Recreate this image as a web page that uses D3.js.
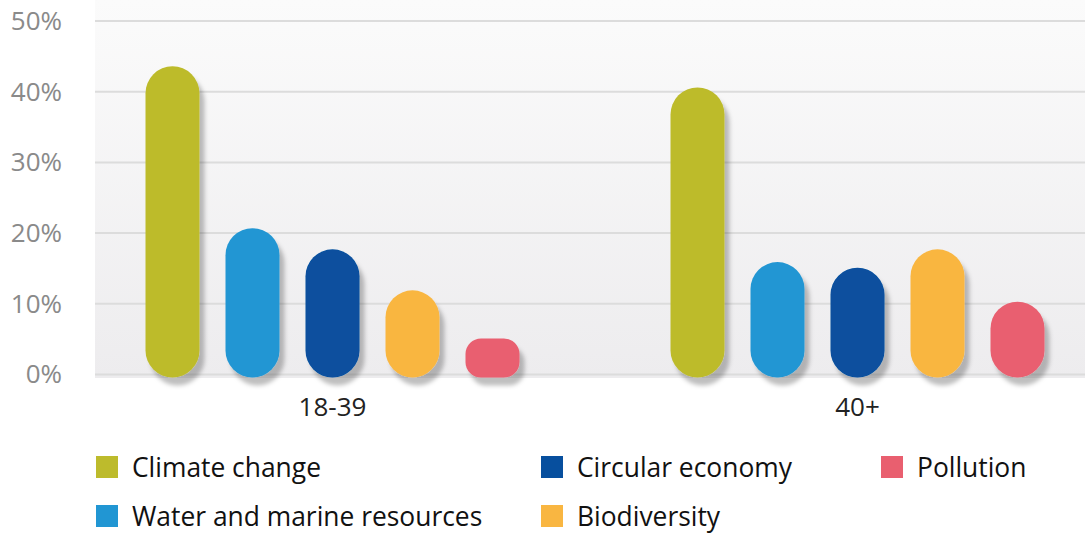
<!DOCTYPE html>
<html>
<head>
<meta charset="utf-8">
<script src="https://cdn.jsdelivr.net/npm/d3@7"></script>
<style>
  html, body { margin: 0; padding: 0; background: #ffffff; }
  svg { display: block; font-family: "Open Sans", "Noto Sans", sans-serif; }
</style>
</head>
<body>
<svg id="chart" width="1085" height="536"></svg>
<script>
// Age groups on the x axis
const groups = ["18-39", "40+"];
// Environmental topics (one bar per topic in each group)
const topics = ["Climate change", "Water and marine resources", "Circular economy", "Biodiversity", "Pollution"];
const topicColors = ["#bdbb2c", "#2196d3", "#074f9e", "#f9b641", "#e95f6f"];
// Share of respondents (%) per topic, one array per age group
const values1839 = [43.6, 20.7, 17.7, 11.9, 5.1];
const values40plus = [40.6, 15.9, 15.1, 17.7, 10.3];
const yTicks = [0, 10, 20, 30, 40, 50];

const seriesByGroup = [values1839, values40plus];

const svg = d3.select("#chart");
const plot = { left: 95, right: 1085, top: 0, bottom: 378 };

// Background gradient of the plotting area
const defs = svg.append("defs");
const grad = defs.append("linearGradient")
  .attr("id", "bg").attr("x1", 0).attr("y1", 0).attr("x2", 0).attr("y2", 1);
grad.append("stop").attr("offset", "0%").attr("stop-color", "#fbfbfb");
grad.append("stop").attr("offset", "100%").attr("stop-color", "#edecee");

const shadow = defs.append("filter").attr("id", "shadow")
  .attr("x", "-30%").attr("y", "-30%").attr("width", "160%").attr("height", "160%");
shadow.append("feDropShadow")
  .attr("dx", 5).attr("dy", 8).attr("stdDeviation", 2.2)
  .attr("flood-color", "#000").attr("flood-opacity", 0.25);

svg.append("rect")
  .attr("x", plot.left).attr("y", plot.top)
  .attr("width", plot.right - plot.left).attr("height", plot.bottom - plot.top)
  .attr("fill", "url(#bg)");

// Scales
const y = d3.scaleLinear().domain([0, 50]).range([374.5, 21]);
const x0 = d3.scaleBand().domain(groups).range([70, 1120]);
const x1 = d3.scaleBand().domain(topics).range([-200, 200]).paddingInner(0.325).paddingOuter(0.1625);

// Gridlines
svg.append("g").selectAll("line").data(yTicks).join("line")
  .attr("x1", plot.left).attr("x2", plot.right)
  .attr("y1", d => y(d)).attr("y2", d => y(d))
  .attr("stroke", "#dcdcdc").attr("stroke-width", 2);

// Y axis labels
const yAxis = d3.axisLeft(y).tickValues(yTicks).tickFormat(d => d + "%").tickSize(0).tickPadding(0);
const yg = svg.append("g").attr("transform", "translate(62,0)").call(yAxis);
yg.select(".domain").remove();
yg.selectAll("text")
  .attr("font-size", 26).attr("fill", "#8a8a8a")
  .attr("font-family", "'Open Sans', sans-serif");

// Bars: rounded pills standing on the baseline
const barData = [];
groups.forEach((g, gi) => {
  topics.forEach((t, ti) => {
    barData.push({ group: g, topic: t, value: seriesByGroup[gi][ti], color: topicColors[ti] });
  });
});

const baseY = y(0) + 3;
svg.append("g").selectAll("rect").data(barData).join("rect")
  .attr("x", d => x0(d.group) + x0.bandwidth() / 2 + x1(d.topic))
  .attr("y", d => y(d.value))
  .attr("width", x1.bandwidth())
  .attr("height", d => baseY - y(d.value))
  .attr("rx", d => Math.min(x1.bandwidth() / 2, (baseY - y(d.value)) * 0.4))
  .attr("ry", d => Math.min(x1.bandwidth() / 2, (baseY - y(d.value)) * 0.4))
  .attr("fill", d => d.color)
  .attr("filter", "url(#shadow)");

// X axis labels
const xAxis = d3.axisBottom(x0).tickSize(0).tickPadding(0);
const xg = svg.append("g").attr("transform", "translate(0,398)").call(xAxis);
xg.select(".domain").remove();
xg.selectAll("text")
  .attr("font-size", 26).attr("fill", "#222")
  .attr("font-family", "'Open Sans', sans-serif")
  .attr("dy", "0.71em");

// Legend
const legendPos = [
  { x: 96, y: 467 }, { x: 96, y: 516 },
  { x: 541, y: 467 }, { x: 541, y: 516 },
  { x: 881, y: 467 }
];
const legend = svg.append("g").selectAll("g").data(topics).join("g")
  .attr("transform", (d, i) => `translate(${legendPos[i].x},${legendPos[i].y})`);
legend.append("rect")
  .attr("x", 0).attr("y", -11).attr("width", 22).attr("height", 22)
  .attr("fill", (d, i) => topicColors[i]);
legend.append("text")
  .attr("x", 36).attr("y", 9.5)
  .attr("font-size", 26.4).attr("fill", "#111")
  .text(d => d);
</script>
</body>
</html>
